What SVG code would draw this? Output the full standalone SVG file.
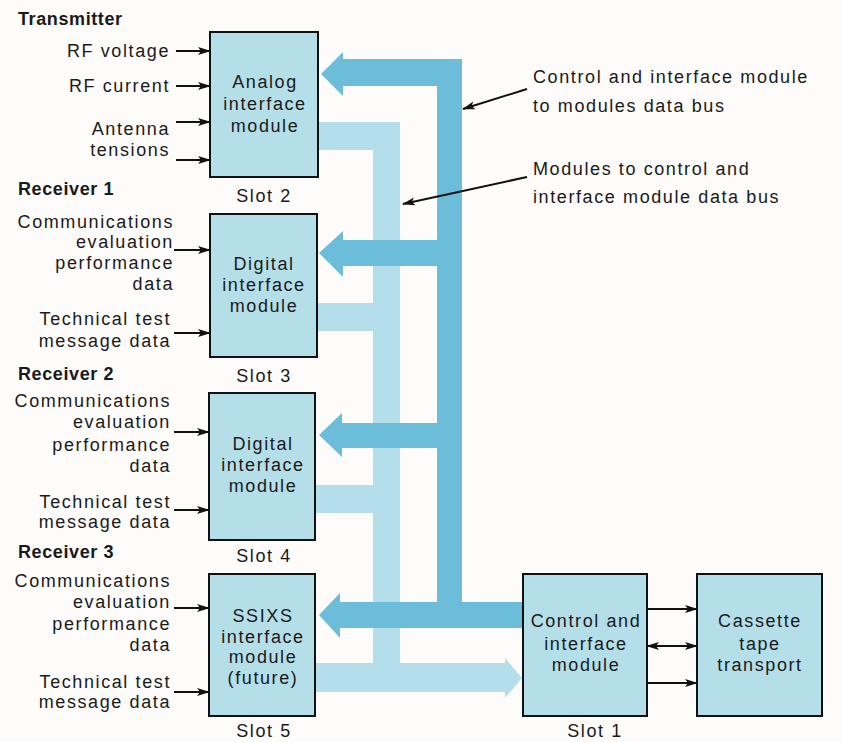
<svg xmlns="http://www.w3.org/2000/svg" width="842" height="742" viewBox="0 0 842 742">
<defs>
<style>
text{font-family:"Liberation Sans",Arial,Helvetica,sans-serif;font-size:18px;fill:#1a1a1a;letter-spacing:1.6px}
.b{font-weight:bold;font-size:18px;letter-spacing:0.6px}
.r{text-anchor:end}
.c{text-anchor:middle}
.box{fill:#b4dfe9;stroke:#111;stroke-width:2}
.dk{fill:#6bbdd9}
.lt{fill:#b4dfea}
.ln{stroke:#111;stroke-width:2;fill:none}
</style>
<marker id="ah" markerWidth="13" markerHeight="9" refX="12" refY="4.5" orient="auto-start-reverse" markerUnits="userSpaceOnUse">
<path d="M0,0.5 L13,4.5 L0,8.5 L3,4.5 Z" fill="#111"/>
</marker>
</defs>
<rect width="842" height="742" fill="#fdfcfa"/>

<g id="buses">
<path class="lt" d="M318,122 H400 V663 H505 V658 L522,678 L505,698 V692 H316 V663 H373 V513 H316 V485 H373 V331 H317 V303 H373 V150 H318 Z"/>
<path class="dk" d="M462,59 V602 H523 V628 H340 V638 L319,615 L340,593 V602 H437 V448 H342 V457 L319,435 L342,413 V423 H437 V266 H343 V277 L319,253 L343,231 V240 H437 V86 H343 V96 L321,74 L343,52 V59 Z"/>
</g>

<g id="connectors">
<line class="ln" x1="176" y1="51" x2="210" y2="51" marker-end="url(#ah)"/>
<line class="ln" x1="176" y1="86" x2="210" y2="86" marker-end="url(#ah)"/>
<line class="ln" x1="176" y1="122" x2="210" y2="122" marker-end="url(#ah)"/>
<line class="ln" x1="176" y1="160" x2="210" y2="160" marker-end="url(#ah)"/>
<line class="ln" x1="174" y1="250" x2="210" y2="250" marker-end="url(#ah)"/>
<line class="ln" x1="174" y1="333" x2="210" y2="333" marker-end="url(#ah)"/>
<line class="ln" x1="174" y1="432" x2="209" y2="432" marker-end="url(#ah)"/>
<line class="ln" x1="174" y1="510" x2="209" y2="510" marker-end="url(#ah)"/>
<line class="ln" x1="174" y1="608" x2="209" y2="608" marker-end="url(#ah)"/>
<line class="ln" x1="174" y1="692" x2="209" y2="692" marker-end="url(#ah)"/>
<line class="ln" x1="647" y1="609" x2="697" y2="609" marker-end="url(#ah)"/>
<line class="ln" x1="647" y1="646" x2="697" y2="646" marker-start="url(#ah)" marker-end="url(#ah)"/>
<line class="ln" x1="647" y1="683" x2="697" y2="683" marker-end="url(#ah)"/>
<line class="ln" x1="527" y1="89" x2="463" y2="109" marker-end="url(#ah)"/>
<line class="ln" x1="527" y1="177" x2="403" y2="204" marker-end="url(#ah)"/>
</g>

<g id="slot2">
<rect class="box" x="210" y="32" width="108" height="145"/>
<text class="c" x="265" y="88">Analog</text>
<text class="c" x="265" y="110">interface</text>
<text class="c" x="265" y="132">module</text>
<text class="c" x="264" y="202">Slot 2</text>
</g>
<g id="slot3">
<rect class="box" x="210" y="214" width="107" height="143"/>
<text class="c" x="264" y="270">Digital</text>
<text class="c" x="264" y="291">interface</text>
<text class="c" x="264" y="312">module</text>
<text class="c" x="264" y="382">Slot 3</text>
</g>
<g id="slot4">
<rect class="box" x="209" y="393" width="106" height="147"/>
<text class="c" x="263" y="450">Digital</text>
<text class="c" x="263" y="471">interface</text>
<text class="c" x="263" y="492">module</text>
<text class="c" x="264" y="562">Slot 4</text>
</g>
<g id="slot5">
<rect class="box" x="209" y="574" width="106" height="142"/>
<text class="c" x="263" y="622">SSIXS</text>
<text class="c" x="263" y="643">interface</text>
<text class="c" x="263" y="663">module</text>
<text class="c" x="263" y="684">(future)</text>
<text class="c" x="264" y="737">Slot 5</text>
</g>
<g id="slot1">
<rect class="box" x="523" y="574" width="124" height="142"/>
<text class="c" x="586" y="627">Control and</text>
<text class="c" x="586" y="650">interface</text>
<text class="c" x="586" y="671">module</text>
<text class="c" x="595" y="737">Slot 1</text>
</g>
<g id="cassette">
<rect class="box" x="697" y="574" width="125" height="142"/>
<text class="c" x="760" y="627">Cassette</text>
<text class="c" x="760" y="650">tape</text>
<text class="c" x="760" y="671">transport</text>
</g>

<g id="transmitter">
<text class="b" x="18" y="25">Transmitter</text>
<text class="r" x="170" y="57">RF voltage</text>
<text class="r" x="170" y="92">RF current</text>
<text class="r" x="170" y="135">Antenna</text>
<text class="r" x="170" y="156">tensions</text>
</g>
<g id="receiver1">
<text class="b" x="18" y="195">Receiver 1</text>
<text class="r" x="174" y="228">Communications</text>
<text class="r" x="174" y="248">evaluation</text>
<text class="r" x="174" y="269">performance</text>
<text class="r" x="174" y="290">data</text>
<text class="r" x="171" y="325">Technical test</text>
<text class="r" x="171" y="347">message data</text>
</g>
<g id="receiver2">
<text class="b" x="18" y="380">Receiver 2</text>
<text class="r" x="171" y="407">Communications</text>
<text class="r" x="171" y="428">evaluation</text>
<text class="r" x="171" y="451">performance</text>
<text class="r" x="171" y="472">data</text>
<text class="r" x="171" y="508">Technical test</text>
<text class="r" x="171" y="528">message data</text>
</g>
<g id="receiver3">
<text class="b" x="18" y="558">Receiver 3</text>
<text class="r" x="171" y="587">Communications</text>
<text class="r" x="171" y="608">evaluation</text>
<text class="r" x="171" y="630">performance</text>
<text class="r" x="171" y="651">data</text>
<text class="r" x="171" y="688">Technical test</text>
<text class="r" x="171" y="708">message data</text>
</g>
<g id="bus-labels">
<text x="533" y="83">Control and interface module</text>
<text x="533" y="112">to modules data bus</text>
<text x="533" y="175">Modules to control and</text>
<text x="533" y="203">interface module data bus</text>
</g>
</svg>
